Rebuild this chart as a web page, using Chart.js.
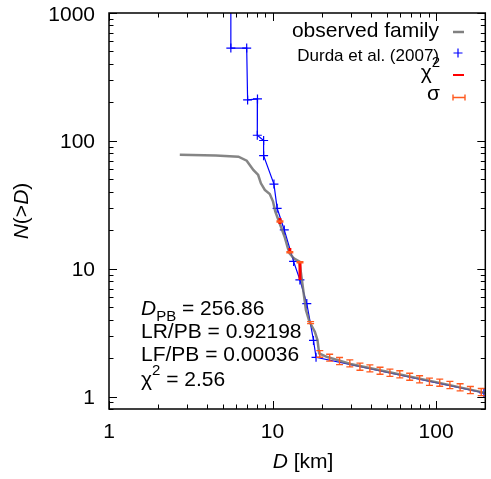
<!DOCTYPE html>
<html>
<head>
<meta charset="utf-8">
<script src="https://cdn.jsdelivr.net/npm/chart.js@4.4.1/dist/chart.umd.min.js"></script>
<style>
  html, body { margin: 0; background: #fff; }
</style>
</head>
<body>
<canvas id="chart" width="491" height="479"></canvas>
<script>
// observed family, cumulative N(>D)
const obsD = [2.71, 4.5, 6.19, 6.95, 7.63, 8.17, 8.49, 8.97, 9.62, 10.07, 10.4, 11.05, 11.85, 12.41, 12.71, 13.49, 14.6, 14.93, 15.5, 16.0, 16.8, 18.14, 18.83, 19.28, 21.6, 30, 52, 105, 200];
const obsN = [78, 77, 75.2, 70, 59.2, 54.1, 46.6, 41.3, 38.4, 33.5, 27.9, 22.7, 17.8, 14.5, 13.2, 12.08, 11.37, 9.22, 6.43, 4.76, 3.86, 3.22, 2.77, 2.18, 2.04, 1.8, 1.55, 1.28, 1.07];

// Durda et al. (2007) model
const durdaD = [5.56, 5.56, 6.95, 7.04, 8.09, 8.07, 8.82, 8.82, 10.2, 10.67, 11.8, 13.45, 14.7, 16.2, 17.8, 18.45, 196];
const durdaN = [1300, 532, 532, 209, 213, 110.6, 100.7, 76.6, 45.9, 29.7, 20.1, 11.4, 8.18, 5.34, 2.75, 2.03, 1.07];

// sigma error bars on observed points
const sigD = [11.1, 12.76, 14.72, 17.09, 19.45, 22.35, 25.69, 29.69, 34.24, 39.38, 45.43, 52.22, 60.01, 68.99, 79.29, 91.1, 105.3, 121.5, 140.3, 162.1, 188.9];
const sigN = [23.4, 13.46, 11.24, 3.79, 2.16, 2.02, 1.9, 1.824, 1.717, 1.667, 1.597, 1.54, 1.497, 1.434, 1.368, 1.31, 1.287, 1.235, 1.184, 1.128, 1.088];
const sigE = [0.2, 0.12, 0.1, 0.07, 0.13, 0.125, 0.12, 0.115, 0.11, 0.105, 0.1, 0.1, 0.095, 0.09, 0.088, 0.085, 0.082, 0.08, 0.076, 0.073, 0.07];

// chi^2 residual segments
const chiD  = [11.1, 12.76, 14.72];
const chiLo = [22.4, 13.2, 8.18];
const chiHi = [24.9, 14.5, 11.24];

const xTicks = [1, 10, 100];
const yTicks = [1, 10, 100, 1000];
const xMinor = [2, 3, 4, 5, 6, 7, 8, 9, 20, 30, 40, 50, 60, 70, 80, 90, 200];
const yMinor = [0.8, 0.9, 2, 3, 4, 5, 6, 7, 8, 9, 20, 30, 40, 50, 60, 70, 80, 90, 200, 300, 400, 500, 600, 700, 800, 900];

const FAM = '"Liberation Sans", Arial, sans-serif';
const BIG = '21px ' + FAM;
const BIGI = 'italic 21px ' + FAM;
const SMALL = '15px ' + FAM;

function runsWidth(ctx, runs) {
  let w = 0;
  for (const r of runs) { ctx.font = r.font; w += ctx.measureText(r.text).width; }
  return w;
}
function drawRuns(ctx, x, y, runs, align) {
  const w = runsWidth(ctx, runs);
  let cx = align === 'right' ? x - w : align === 'center' ? x - w / 2 : x;
  for (const r of runs) {
    ctx.font = r.font;
    ctx.fillText(r.text, cx, y + (r.dy || 0));
    cx += ctx.measureText(r.text).width;
  }
}

const extras = {
  id: 'extras',
  afterDatasetsDraw(chart) {
    const ctx = chart.ctx, xs = chart.scales.x, ys = chart.scales.y, a = chart.chartArea;
    ctx.save();
    ctx.beginPath();
    ctx.rect(a.left, a.top, a.right - a.left, a.bottom - a.top);
    ctx.clip();
    // chi^2
    ctx.strokeStyle = '#ff0000';
    ctx.lineWidth = 3;
    chiD.forEach((d, i) => {
      const px = xs.getPixelForValue(d);
      ctx.beginPath();
      ctx.moveTo(px, ys.getPixelForValue(chiLo[i]));
      ctx.lineTo(px, ys.getPixelForValue(chiHi[i]));
      ctx.stroke();
    });
    // sigma
    ctx.strokeStyle = '#ff5a1f';
    ctx.lineWidth = 1.4;
    sigD.forEach((d, i) => {
      const px = xs.getPixelForValue(d);
      const p1 = ys.getPixelForValue(sigN[i] - sigE[i]);
      const p2 = ys.getPixelForValue(sigN[i] + sigE[i]);
      ctx.beginPath();
      ctx.moveTo(px, p1); ctx.lineTo(px, p2);
      ctx.moveTo(px - 3.5, p1); ctx.lineTo(px + 3.5, p1);
      ctx.moveTo(px - 3.5, p2); ctx.lineTo(px + 3.5, p2);
      ctx.stroke();
    });
    ctx.restore();
  },
  afterDraw(chart) {
    const ctx = chart.ctx, xs = chart.scales.x, ys = chart.scales.y, a = chart.chartArea;
    ctx.save();
    // frame
    ctx.strokeStyle = '#000';
    ctx.lineWidth = 1.5;
    ctx.strokeRect(a.left, a.top, a.right - a.left, a.bottom - a.top);
    // inward ticks on all four sides
    ctx.lineWidth = 1;
    const tickX = (vals, len) => vals.forEach(v => {
      const px = Math.round(xs.getPixelForValue(v)) + 0.5;
      ctx.beginPath();
      ctx.moveTo(px, a.bottom); ctx.lineTo(px, a.bottom - len);
      ctx.moveTo(px, a.top); ctx.lineTo(px, a.top + len);
      ctx.stroke();
    });
    const tickY = (vals, len) => vals.forEach(v => {
      const py = Math.round(ys.getPixelForValue(v)) + 0.5;
      ctx.beginPath();
      ctx.moveTo(a.left, py); ctx.lineTo(a.left + len, py);
      ctx.moveTo(a.right, py); ctx.lineTo(a.right - len, py);
      ctx.stroke();
    });
    tickX(xTicks, 8); tickX(xMinor, 4.5);
    tickY(yTicks, 8); tickY(yMinor, 4.5);

    ctx.fillStyle = '#000';
    ctx.textBaseline = 'alphabetic';
    // tick labels
    xTicks.forEach(v => drawRuns(ctx, xs.getPixelForValue(v), a.bottom + 29, [{ text: String(v), font: BIG }], 'center'));
    yTicks.forEach(v => drawRuns(ctx, 95, ys.getPixelForValue(v) + 7.5, [{ text: String(v), font: BIG }], 'right'));

    // legend
    drawRuns(ctx, 439, 37, [{ text: 'observed family', font: BIG }], 'right');
    drawRuns(ctx, 439, 61, [{ text: 'Durda et al. (2007)', font: '17px ' + FAM }], 'right');
    drawRuns(ctx, 440, 79, [{ text: '\u03c7', font: BIG }, { text: '2', font: SMALL, dy: -12 }], 'right');
    drawRuns(ctx, 440, 100, [{ text: '\u03c3', font: BIG }], 'right');
    ctx.lineWidth = 2.5;
    ctx.strokeStyle = '#808080';
    ctx.beginPath(); ctx.moveTo(453, 32); ctx.lineTo(464, 32); ctx.stroke();
    ctx.lineWidth = 1.2;
    ctx.strokeStyle = '#0000ff';
    ctx.beginPath(); ctx.moveTo(453.5, 53); ctx.lineTo(462.5, 53); ctx.moveTo(458, 48.5); ctx.lineTo(458, 57.5); ctx.stroke();
    ctx.lineWidth = 2;
    ctx.strokeStyle = '#ff0000';
    ctx.beginPath(); ctx.moveTo(453, 75); ctx.lineTo(464, 75); ctx.stroke();
    ctx.lineWidth = 1.4;
    ctx.strokeStyle = '#ff5a1f';
    ctx.beginPath();
    ctx.moveTo(453, 97.5); ctx.lineTo(465, 97.5);
    ctx.moveTo(453, 94.5); ctx.lineTo(453, 100.5);
    ctx.moveTo(465, 94.5); ctx.lineTo(465, 100.5);
    ctx.stroke();

    // fit annotation
    ctx.fillStyle = '#000';
    drawRuns(ctx, 141, 315, [{ text: 'D', font: BIGI }, { text: 'PB', font: SMALL, dy: 6 }, { text: ' = 256.86', font: BIG }]);
    drawRuns(ctx, 141, 338, [{ text: 'LR/PB = 0.92198', font: BIG }]);
    drawRuns(ctx, 141, 361, [{ text: 'LF/PB = 0.00036', font: BIG }]);
    drawRuns(ctx, 141, 386, [{ text: '\u03c7', font: BIG }, { text: '2', font: SMALL, dy: -11 }, { text: ' = 2.56', font: BIG }]);

    // axis titles
    drawRuns(ctx, 303, 468, [{ text: 'D', font: BIGI }, { text: ' [km]', font: BIG }], 'center');
    ctx.translate(28, (a.top + a.bottom) / 2);
    ctx.rotate(-Math.PI / 2);
    drawRuns(ctx, 0, 0, [{ text: 'N', font: BIGI }, { text: '(>', font: BIG }, { text: 'D', font: BIGI }, { text: ')', font: BIG }], 'center');
    ctx.restore();
  }
};

new Chart(document.getElementById('chart'), {
  type: 'line',
  data: {
    datasets: [
      {
        label: 'observed family',
        data: obsD.map((d, i) => ({ x: d, y: obsN[i] })),
        borderColor: 'rgba(112,112,112,0.85)',
        borderWidth: 2.5,
        pointRadius: 0,
        tension: 0
      },
      {
        label: 'Durda et al. (2007)',
        data: durdaD.map((d, i) => ({ x: d, y: durdaN[i] })),
        borderColor: '#0000ff',
        borderWidth: 1.2,
        pointStyle: 'cross',
        pointRadius: 4.5,
        pointBorderWidth: 1.2,
        pointBorderColor: '#0000ff',
        tension: 0
      }
    ]
  },
  options: {
    responsive: false,
    animation: false,
    events: [],
    layout: { padding: { top: 13, right: 1, left: 0, bottom: 0 } },
    scales: {
      x: {
        type: 'logarithmic',
        min: 1,
        max: 200,
        border: { display: false },
        grid: { display: false, drawTicks: false },
        afterFit: s => { s.height = 70; },
        ticks: { display: false }
      },
      y: {
        type: 'logarithmic',
        min: 0.8,
        max: 1000,
        border: { display: false },
        grid: { display: false, drawTicks: false },
        afterFit: s => { s.width = 109; },
        ticks: { display: false }
      }
    },
    plugins: {
      legend: { display: false },
      title: { display: false },
      tooltip: { enabled: false }
    }
  },
  plugins: [extras]
});
</script>
</body>
</html>
